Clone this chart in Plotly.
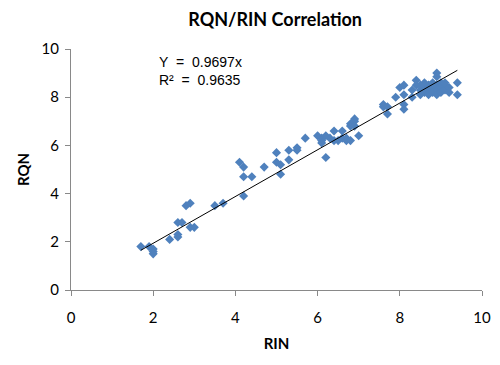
import plotly.graph_objects as go

rin = [1.7, 1.9, 2.0, 2.0, 2.0, 2.4, 2.6, 2.6, 2.6, 2.7, 2.8, 2.9, 2.9, 3.0, 3.5, 3.7,
       4.1, 4.2, 4.2, 4.4, 4.2, 4.7, 5.0, 5.0, 5.1, 5.1, 5.3, 5.3, 5.5, 5.5, 5.7,
       6.0, 6.1, 6.1, 6.1, 6.2, 6.2, 6.3, 6.4, 6.4, 6.5, 6.6, 6.6, 6.7, 6.7, 6.8, 6.8,
       6.9, 6.8, 6.9, 7.0, 6.9, 7.6, 7.6, 7.7, 7.7, 7.9, 8.0, 8.1, 8.1, 8.1, 8.1,
       8.3, 8.3, 8.4, 8.4, 8.5, 8.5, 8.6, 8.6, 8.7, 8.7, 8.7, 8.8, 8.8, 8.8, 8.9, 8.9,
       8.9, 8.9, 8.9, 9.0, 9.0, 9.0, 9.1, 9.1, 9.1, 9.2, 9.2, 8.6, 8.5, 9.4, 9.4]
rqn = [1.8, 1.8, 1.7, 1.6, 1.5, 2.1, 2.3, 2.2, 2.8, 2.8, 3.5, 3.6, 2.6, 2.6, 3.5, 3.6,
       5.3, 5.1, 4.7, 4.7, 3.9, 5.1, 5.7, 5.3, 5.2, 4.8, 5.8, 5.4, 5.9, 5.8, 6.3,
       6.4, 6.3, 6.2, 6.1, 6.4, 5.5, 6.3, 6.6, 6.2, 6.2, 6.6, 6.3, 6.3, 6.2, 6.8, 6.9,
       7.0, 6.2, 6.8, 6.4, 7.1, 7.7, 7.6, 7.6, 7.3, 8.0, 8.4, 8.5, 8.1, 7.7, 7.5,
       8.3, 8.0, 8.7, 8.5, 8.3, 8.1, 8.4, 8.2, 8.5, 8.3, 8.1, 8.6, 8.4, 8.2, 9.0, 8.85,
       8.5, 8.3, 8.1, 8.6, 8.4, 8.2, 8.5, 8.3, 8.6, 8.4, 8.2, 8.6, 8.5, 8.6, 8.1]
slope = 0.9697
r2 = 0.9635
ticks = [0, 2, 4, 6, 8, 10]

fig = go.Figure()
fig.add_trace(go.Scatter(x=rin, y=rqn, mode="markers",
                         marker=dict(symbol="diamond", size=7, color="#4F81BD"),
                         showlegend=False))
x0, x1 = min(rin), max(rin)
fig.add_trace(go.Scatter(x=[x0, x1], y=[slope * x0, slope * x1], mode="lines",
                         line=dict(color="#000000", width=1), showlegend=False))

axis_common = dict(range=[0, 10], tickvals=ticks, showgrid=False, zeroline=False,
                   showline=True, linecolor="#898989", linewidth=1, automargin=False,
                   ticks="outside", ticklen=5, tickcolor="#898989",
                   tickfont=dict(family="Lato", size=15, color="#000000"))

# page body has an 8px margin, so the figure is sized to fill the rest of the window
fig.update_layout(
    width=492, height=357,
    margin=dict(l=63, r=18, t=41, b=75),
    paper_bgcolor="white", plot_bgcolor="white",
    title=dict(text="<b>RQN/RIN Correlation</b>", x=0.543, xanchor="center",
               y=0.966, yanchor="middle",
               font=dict(family="Lato", size=18, color="#000000")),
    xaxis=dict(**axis_common, ticklabelstandoff=9,
               title=dict(text="<b>RIN</b>", font=dict(family="Lato", size=15, color="#000000"),
                          standoff=13)),
    yaxis=dict(**axis_common, ticklabelstandoff=3,
               title=dict(text="<b>RQN</b>", font=dict(family="Lato", size=15, color="#000000"),
                          standoff=8)),
    annotations=[dict(x=2.1, y=9.1, xref="x", yref="y", xanchor="left", yanchor="middle",
                      align="left", showarrow=False,
                      text=f"Y\u00a0 =\u00a0 {slope}x<br>R\u00b2\u00a0 =\u00a0 {r2}",
                      font=dict(family="Liberation Sans", size=14, color="#000000"))],
)

fig.write_html("out.html")
